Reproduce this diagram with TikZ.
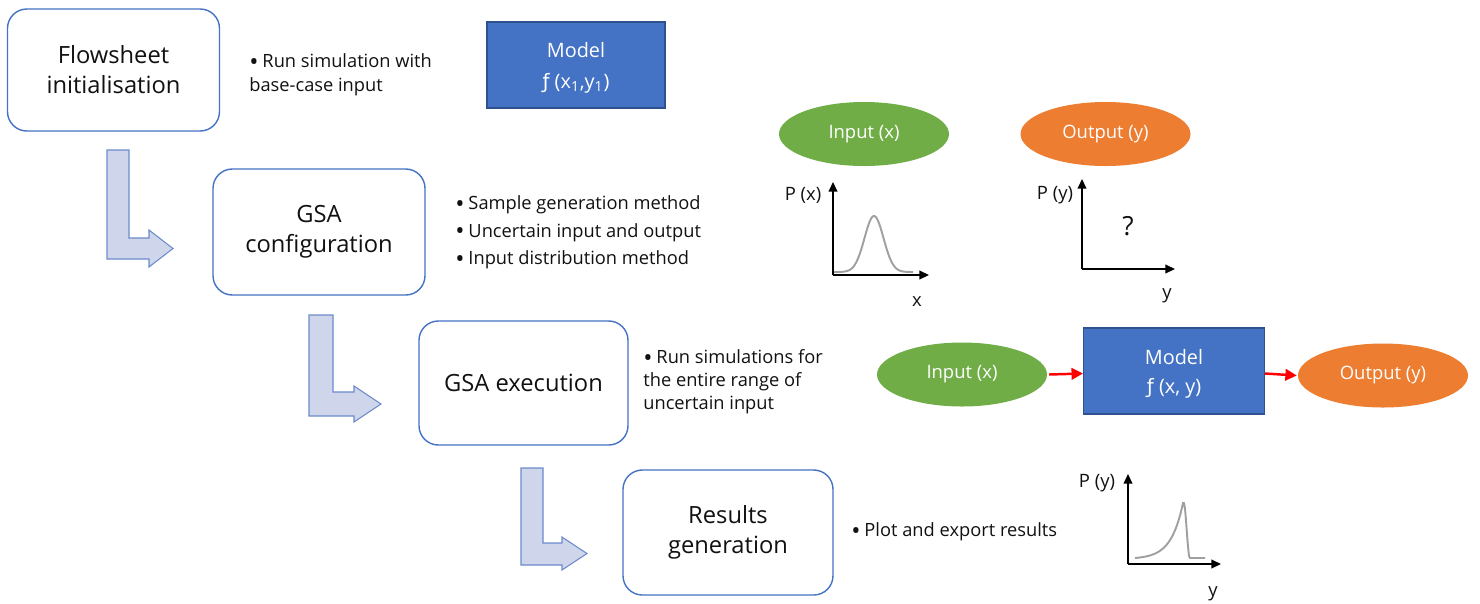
\documentclass[tikz,border=0pt]{standalone}
\usepackage{fontspec}
\setmainfont{Open Sans}
\newfontfamily\dejavu{DejaVu Sans}
\usetikzlibrary{arrows.meta,shapes.geometric}
\definecolor{boxblue}{HTML}{4472C4}
\definecolor{modelfill}{HTML}{4472C4}
\definecolor{modeldraw}{HTML}{2F528F}
\definecolor{arrowfill}{HTML}{CFD5EA}
\definecolor{arrowdraw}{HTML}{6A8BCB}
\definecolor{ingreen}{HTML}{70AD47}
\definecolor{outorange}{HTML}{ED7D31}
\definecolor{textc}{HTML}{111111}
\definecolor{curvegray}{HTML}{A0A0A0}
\definecolor{redc}{HTML}{FF0000}
\newcommand\bul{\raisebox{-1.4pt}{\fontsize{14}{10}\selectfont•}\hspace{2.2pt}}
\begin{document}
\begin{tikzpicture}[x=0.02cm,y=-0.02cm,
  stage/.style={draw=boxblue, line width=0.8pt, rounded corners=11pt, fill=white, align=center,
    font=\fontsize{13.5}{17}\selectfont, text=textc, inner sep=0pt},
  model/.style={draw=modeldraw, fill=modelfill, text=white, align=center,
    font=\fontsize{11.3}{17}\selectfont, line width=0.6pt, inner sep=0pt},
  ell/.style={ellipse, text=white, font=\fontsize{10.5}{12}\selectfont, inner sep=0pt,
    minimum width=170*0.02cm, minimum height=64*0.02cm},
  bullets/.style={align=left, anchor=west, text=textc, inner sep=0pt},
  larrow/.style={fill=arrowfill, draw=arrowdraw, line width=0.6pt},
  axis/.style={line width=0.8pt, draw=black, -{Triangle[length=5.5pt,width=5pt]}},
  curve/.style={draw=curvegray, line width=1.1pt},
  redarrow/.style={draw=redc, line width=1.4pt, -{Triangle[length=6.5pt,width=6.5pt]}},
  lbl/.style={text=textc, font=\fontsize{10.5}{12}\selectfont, inner sep=0pt}
]
\useasboundingbox (0,0) rectangle (1480,603);

% stage boxes
\node[stage, minimum width=212*0.02cm, minimum height=122*0.02cm] (s1) at (113.5,70) {Flowsheet\\initialisation};
\node[stage, minimum width=212*0.02cm, minimum height=126*0.02cm] (s2) at (319,232) {GSA\\configuration};
\node[stage, minimum width=209*0.02cm, minimum height=124*0.02cm] (s3) at (523.5,383) {GSA execution};
\node[stage, minimum width=210*0.02cm, minimum height=125*0.02cm] (s4) at (728,532.5) {Results\\generation};

% L-shaped arrows
\draw[larrow] (107,150) -- (129,150) -- (129,238) -- (149,238) -- (149,230) -- (173,248.5) -- (149,267) -- (149,259) -- (107,259) -- cycle;
\draw[larrow] (309,315) -- (333,315) -- (333,392) -- (354,392) -- (354,386) -- (381,404) -- (354,422) -- (354,416) -- (309,416) -- cycle;
\draw[larrow] (521,468) -- (543,468) -- (543,543) -- (562,543) -- (562,537) -- (587,553.5) -- (562,570) -- (562,565) -- (521,565) -- cycle;

% bullet texts
\node[bullets, font=\fontsize{10.4}{13.6}\selectfont] (b1) at (249,75) {\bul Run simulation with\\base-case input};
\node[bullets, font=\fontsize{10.4}{15.6}\selectfont] (b2) at (455,232.5) {\bul Sample generation method\\\bul Uncertain input and output\\\bul Input distribution method};
\node[bullets, font=\fontsize{10.4}{13.1}\selectfont] (b3) at (643,382) {\bul Run simulations for\\the entire range of\\uncertain input};
\node[bullets, font=\fontsize{10.4}{13.6}\selectfont] (b4) at (851,532) {\bul Plot and export results};

% top model box
\node[model, minimum width=178*0.02cm, minimum height=86*0.02cm] (m1) at (576,65) {\raisebox{-3pt}{\shortstack{\strut Model\\[1pt]{\dejavu ƒ} (x\textsubscript{1},y\textsubscript{1})}}};

% top ellipses
\node[ell, fill=ingreen] (in1) at (864,134) {Input (x)};
\node[ell, fill=outorange] (out1) at (1105.5,134) {Output (y)};

% plot 1 : P(x)
\draw[axis] (833,275) -- (833,182);
\draw[axis] (833,275) -- (929,275);
\draw[curve] (834,272) -- (840,272) -- plot[domain=840:908,samples=70,smooth] (\x,{272-56*exp(-((\x-874)/9.5)^2/2)}) -- (913,272);
\node[lbl] (px) at (803,195) {P (x)};
\node[lbl] (xl) at (917,302) {x};

% plot 2 : P(y) ?
\draw[axis] (1082,269) -- (1082,179);
\draw[axis] (1082,269) -- (1175,269);
\node[lbl] (py) at (1055,195) {P (y)};
\node[lbl, font=\fontsize{15}{16}\selectfont] (q) at (1128,226) {?};
\node[lbl] (yl) at (1167,296) {y};

% middle row
\node[ell, fill=ingreen] (in2) at (962,374.5) {Input (x)};
\node[model, minimum width=181*0.02cm, minimum height=86*0.02cm] (m2) at (1174,371) {\raisebox{-2pt}{\shortstack{\strut Model\\[0pt]{\dejavu ƒ} (x, y)}}};
\node[ell, fill=outorange] (out2) at (1383,375.5) {Output (y)};
\draw[redarrow] ([xshift=1pt]in2.east) -- ([yshift=-2.5*0.02cm]m2.west);
\draw[redarrow] ([yshift=-2.5*0.02cm]m2.east) -- ([xshift=-0.5pt]out2.west);

% plot 3 : P(y) result
\draw[axis] (1128,564) -- (1128,474);
\draw[axis] (1128,564) -- (1221,564);
\draw[curve] plot[domain=1135:1183,samples=50,smooth] (\x,{559-56*exp((\x-1183)/12)}) .. controls (1185.5,499) and (1186,530) .. (1189,556) -- (1190,558) -- (1205,558);
\node[lbl] (py2) at (1097,483) {P (y)};
\node[lbl] (yl2) at (1213,594) {y};
\end{tikzpicture}
\end{document}
